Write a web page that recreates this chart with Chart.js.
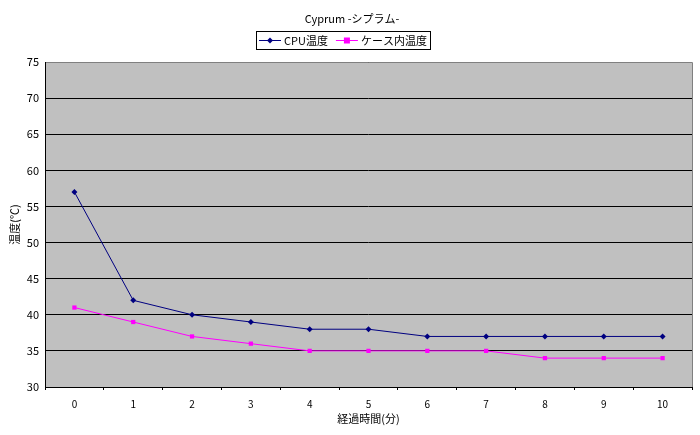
<!DOCTYPE html>
<html><head><meta charset="utf-8">
<script src="https://cdn.jsdelivr.net/npm/chart.js@4.4.1/dist/chart.umd.min.js"></script>
<style>html,body{margin:0;padding:0;background:#fff}#wrap{width:700px;height:435px}</style>
</head><body><div id="wrap"><canvas id="c" width="700" height="435"></canvas></div>
<script>
const titleText = 'Cyprum -シプラム-';
const categories = ['0','1','2','3','4','5','6','7','8','9','10'];
const cpuTemp = [57, 42, 40, 39, 38, 38, 37, 37, 37, 37, 37];
const caseTemp = [41, 39, 37, 36, 35, 35, 35, 35, 34, 34, 34];
const seriesNames = ['CPU温度', 'ケース内温度'];
const xTitle = '経過時間(分)';
const yTitle = '温度(℃)';
const FONT = '"Noto Sans CJK JP", "DejaVu Sans", sans-serif';

const decor = {
  id: 'decor',
  beforeDraw(chart) {
    const {ctx, chartArea: a} = chart;
    ctx.save();
    ctx.fillStyle = '#c0c0c0';
    ctx.fillRect(a.left, a.top, a.right - a.left, a.bottom - a.top);
    ctx.restore();
  },
  afterDraw(chart) {
    const {ctx, chartArea: a} = chart;
    ctx.save();
    ctx.lineWidth = 1;
    ctx.strokeStyle = '#808080';
    ctx.beginPath();
    ctx.moveTo(a.left, a.top + 0.5); ctx.lineTo(a.right + 0.5, a.top + 0.5); ctx.lineTo(a.right + 0.5, a.bottom);
    ctx.stroke();
    ctx.strokeStyle = '#000';
    ctx.beginPath();
    ctx.moveTo(a.left + 0.5, a.top); ctx.lineTo(a.left + 0.5, a.bottom + 0.5); ctx.lineTo(a.right + 0.5, a.bottom + 0.5);
    ctx.stroke();
    // title
    ctx.fillStyle = '#000';
    ctx.font = '11px ' + FONT;
    ctx.textAlign = 'center';
    ctx.textBaseline = 'middle';
    ctx.fillText(titleText, 352, 19);
    // legend
    const ds = chart.data.datasets;
    const widths = seriesNames.map(n => 22 + 3 + ctx.measureText(n).width);
    const gap = 8, pad = 3;
    const bw = pad * 2 + widths[0] + gap + widths[1];
    const bh = 18;
    const bx = Math.round(343 - bw / 2), by = 31;
    ctx.strokeStyle = '#000';
    ctx.strokeRect(bx + 0.5, by + 0.5, Math.round(bw), bh);
    ctx.textAlign = 'left';
    let x = bx + pad;
    seriesNames.forEach((name, i) => {
      const y = by + bh / 2 + 0.5;
      ctx.strokeStyle = ds[i].borderColor;
      ctx.lineWidth = 1;
      ctx.beginPath(); ctx.moveTo(x, y); ctx.lineTo(x + 22, y); ctx.stroke();
      ctx.fillStyle = ds[i].borderColor;
      const cx = x + 11;
      if (i === 0) {
        ctx.beginPath();
        ctx.moveTo(cx, y - 3); ctx.lineTo(cx + 3, y); ctx.lineTo(cx, y + 3); ctx.lineTo(cx - 3, y); ctx.closePath(); ctx.fill();
      } else {
        ctx.fillRect(cx - 3, y - 3, 6, 6);
      }
      ctx.fillStyle = '#000';
      ctx.fillText(name, x + 25, y);
      x += widths[i] + gap;
    });
    // axis titles
    ctx.textAlign = 'center';
    ctx.fillText(xTitle, (a.left + a.right) / 2, 419);
    ctx.translate(15, (a.top + a.bottom) / 2);
    ctx.rotate(-Math.PI / 2);
    ctx.fillText(yTitle, 0, 0);
    ctx.restore();
  }
};

new Chart(document.getElementById('c'), {
  type: 'line',
  data: {
    labels: categories,
    datasets: [
      {label: seriesNames[0], data: cpuTemp, borderColor: '#000080', backgroundColor: '#000080',
       borderWidth: 1, pointStyle: 'rectRot', pointRadius: 3, pointBorderWidth: 0, tension: 0},
      {label: seriesNames[1], data: caseTemp, borderColor: '#ff00ff', backgroundColor: '#ff00ff',
       borderWidth: 1, pointStyle: 'rect', pointRadius: 3, pointBorderWidth: 0, tension: 0}
    ]
  },
  options: {
    responsive: false,
    animation: false,
    layout: {padding: {left: 0, right: 8, top: 62, bottom: 0}},
    plugins: {legend: {display: false}, title: {display: false}, tooltip: {enabled: false}},
    scales: {
      x: {
        offset: true,
        grid: {display: true, offset: true, drawOnChartArea: false, color: '#000', tickLength: 3},
        border: {display: false},
        ticks: {color: '#000', font: {size: 10, family: FONT}, padding: 8, maxRotation: 0},
        afterFit(s) { s.height = 48; }
      },
      y: {
        min: 30, max: 75,
        ticks: {stepSize: 5, color: '#000', font: {size: 11, family: FONT}, padding: 6},
        grid: {color: '#000', drawTicks: false, lineWidth: 1},
        border: {display: false},
        afterFit(s) { s.width = 45; }
      }
    }
  },
  plugins: [decor]
});
</script></body></html>
